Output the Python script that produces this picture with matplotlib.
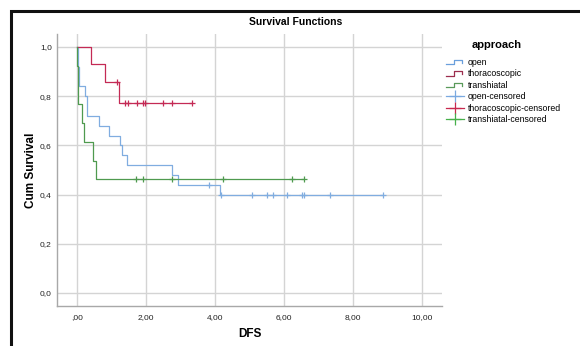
import matplotlib
matplotlib.use("Agg")
import matplotlib.pyplot as plt
from matplotlib.lines import Line2D
from matplotlib.patches import Rectangle
from matplotlib.legend_handler import HandlerBase

plt.rcParams['font.family'] = ['Liberation Sans', 'DejaVu Sans']

# ---- data ----
groups = ["open", "thoracoscopic", "transhiatal"]

open_t = [0.0, 0.04, 0.075, 0.24, 0.31, 0.66, 0.95, 1.25, 1.30, 1.47, 2.75, 2.93, 4.15]
open_s = [1.0, 0.92, 0.84, 0.80, 0.72, 0.68, 0.64, 0.60, 0.56, 0.52, 0.48, 0.44, 0.40]
open_end = 8.87
open_cens_t = [3.83, 4.17, 5.09, 5.51, 5.68, 6.09, 6.52, 6.59, 7.34, 8.87]

thor_t = [0.0, 0.41, 0.82, 1.24]
thor_s = [1.0, 0.929, 0.857, 0.771]
thor_end = 3.35
thor_cens_t = [1.18, 1.41, 1.48, 1.75, 1.91, 1.99, 2.50, 2.75, 3.35]

tran_t = [0.0, 0.02, 0.04, 0.14, 0.21, 0.48, 0.56]
tran_s = [1.0, 0.923, 0.769, 0.692, 0.615, 0.538, 0.462]
tran_end = 6.60
tran_cens_t = [1.72, 1.92, 2.75, 4.25, 6.25, 6.60]

x_ticks = [0, 2, 4, 6, 8, 10]
x_ticklabels = [",00", "2,00", "4,00", "6,00", "8,00", "10,00"]
y_ticks = [0.0, 0.2, 0.4, 0.6, 0.8, 1.0]
y_ticklabels = ["0,0", "0,2", "0,4", "0,6", "0,8", "1,0"]

colors = {"open": "#80ade0", "thoracoscopic": "#c42a55", "transhiatal": "#4f9a4f"}
cens_colors = {"open": "#80ade0", "thoracoscopic": "#c42a55", "transhiatal": "#4f9a4f"}
legend_line_colors = {"open": "#6a9fdc", "thoracoscopic": "#9c2d4e", "transhiatal": "#5a9a5a"}
legend_cens_colors = {"open": "#7aa9e0", "thoracoscopic": "#c8284f", "transhiatal": "#46b04a"}


def surv_at(ts, ss, t):
    v = ss[0]
    for ti, si in zip(ts, ss):
        if ti <= t:
            v = si
    return v


fig = plt.figure(figsize=(5.8, 3.46), dpi=100)
W, H = 580, 346
ax = fig.add_axes([57.3 / W, 1 - 305.7 / H, (441.7 - 57.3) / W, (305.7 - 34) / H])

series = [
    ("open", open_t, open_s, open_end, open_cens_t),
    ("thoracoscopic", thor_t, thor_s, thor_end, thor_cens_t),
    ("transhiatal", tran_t, tran_s, tran_end, tran_cens_t),
]

for name, ts, ss, end, cens in series:
    xs = list(ts) + [end]
    ys = list(ss) + [ss[-1]]
    ax.plot(xs, ys, drawstyle="steps-post", color=colors[name], lw=0.9, zorder=3)
    cy = [surv_at(ts, ss, c) for c in cens]
    ax.plot(cens, cy, linestyle="none", marker="+", ms=5, mew=0.9,
            color=cens_colors[name], zorder=4)

ax.set_xlim(-0.562, 10.58)
ax.set_ylim(-0.052, 1.053)
ax.set_xticks(x_ticks)
ax.set_xticklabels(x_ticklabels)
ax.set_yticks(y_ticks)
ax.set_yticklabels(y_ticklabels)
ax.tick_params(length=0, labelsize=6, colors="#222222")
ax.tick_params(axis="x", pad=6)
ax.tick_params(axis="y", pad=4)
ax.grid(True, color="#d4d4d4", lw=1.0, zorder=0)
ax.set_axisbelow(True)
for s in ["top", "right"]:
    ax.spines[s].set_visible(False)
for s in ["left", "bottom"]:
    ax.spines[s].set_color("#a8a8a8")
    ax.spines[s].set_linewidth(1.0)

ax.set_xlabel("DFS", fontsize=8.5, fontweight="bold", labelpad=5)
ax.set_ylabel("Cum Survival", fontsize=8.5, fontweight="bold", labelpad=2)
fig.text(296 / W, 1 - 22 / H, "Survival Functions", fontsize=7.5, fontweight="bold",
         ha="center", va="center")

# frame (left and top border of the output window)
fig.add_artist(Rectangle((10.5 / W, -0.5), 2.0, 1.5 - 10.5 / H, transform=fig.transFigure,
                         fill=False, edgecolor="#111111", lw=2.2))


class StepHandler(HandlerBase):
    def create_artists(self, legend, orig_handle, xdescent, ydescent, width, height,
                       fontsize, trans):
        x0 = -xdescent
        y0 = -ydescent
        xs = [x0, x0 + 0.45 * width, x0 + 0.45 * width, x0 + 0.9 * width, x0 + 0.9 * width]
        ys = [y0 + 0.15 * height, y0 + 0.15 * height, y0 + 0.85 * height,
              y0 + 0.85 * height, y0 + 0.35 * height]
        ln = Line2D(xs, ys, color=orig_handle.get_color(), lw=0.9, transform=trans)
        return [ln]


class StepKey:
    def __init__(self, color):
        self.color = color

    def get_color(self):
        return self.color


handles, labels = [], []
for g in groups:
    handles.append(StepKey(legend_line_colors[g]))
    labels.append(g)
for g in groups:
    handles.append(Line2D([], [], color=legend_cens_colors[g], marker="+", ms=9, mew=0.9, lw=0.9))
    labels.append(g + "-censored")

fig.text(497 / W, 1 - 45 / H, "approach", fontsize=8, fontweight="bold",
         ha="center", va="center")
leg = fig.legend(handles, labels, loc="upper left", bbox_to_anchor=(440 / W, 1 - 52 / H),
                 frameon=False, fontsize=6.3,
                 handlelength=2.0, handletextpad=0.45, labelspacing=0.27,
                 borderpad=0.2, handler_map={StepKey: StepHandler()})

fig.savefig("out.png", dpi=100, facecolor="white")
